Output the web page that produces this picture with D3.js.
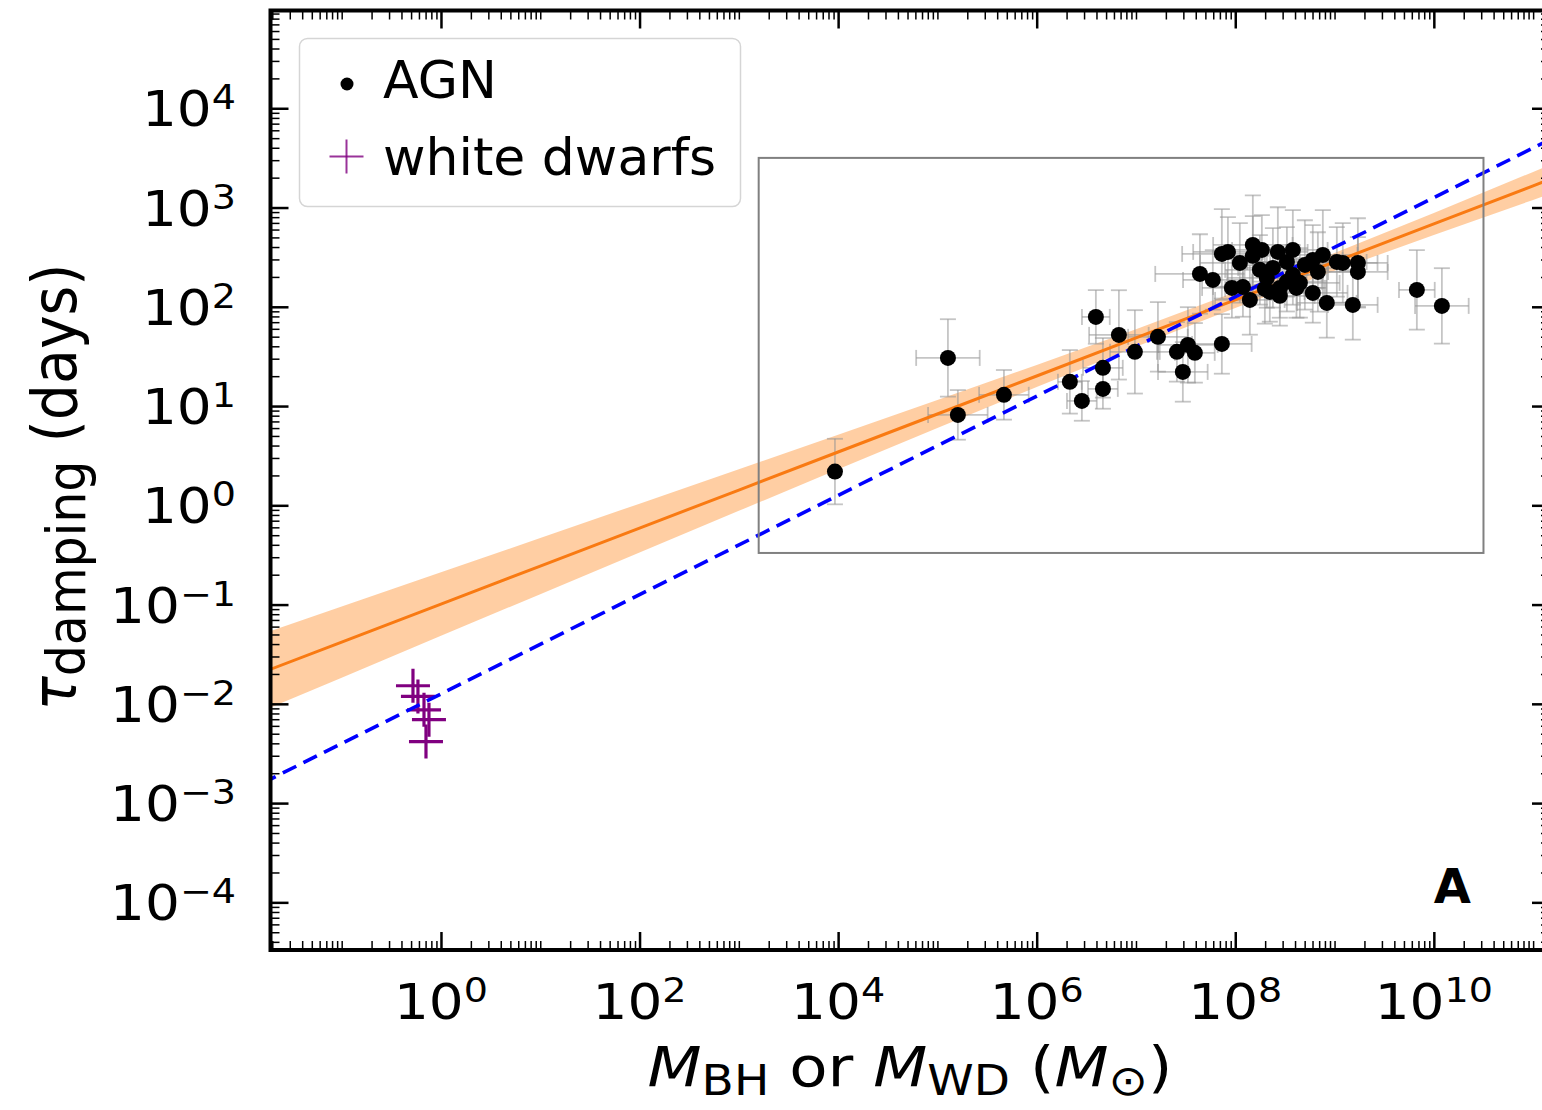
<!DOCTYPE html>
<html>
<head>
<meta charset="utf-8">
<script src="https://cdn.jsdelivr.net/npm/d3@7"></script>
<style>
  body { margin: 0; background: #fff; }
  svg { display: block; }
  text { font-family: "DejaVu Sans", sans-serif; fill: #000; }
</style>
</head>
<body>
<svg id="chart" width="1542" height="1110"></svg>
<script>
// ---- AGN sample: log10 black-hole mass, log10 damping time (days), 1-sigma errors (dex)
const agnLogMass = [3.968, 5.106, 5.206, 5.670, 6.334, 6.455, 6.596, 6.667, 6.667, 6.828,
  6.989, 7.221, 7.412, 7.523, 7.593, 7.472, 7.865, 7.644, 7.774, 7.865,
  7.926, 7.966, 8.147, 8.177, 8.177, 8.248, 8.318, 8.379, 8.429, 8.449,
  8.520, 8.580, 8.580, 8.651, 8.701, 8.781, 8.781, 8.832, 8.882, 8.922,
  9.023, 9.083, 9.235, 9.235, 9.184, 9.829, 10.081, 8.348, 8.077, 8.268,
  8.520, 8.298, 8.616, 8.449, 8.046];
const agnLogTau = [0.340, 1.485, 0.911, 1.113, 1.244, 1.052, 1.898, 1.385, 1.173, 1.717,
  1.546, 1.697, 1.546, 1.616, 1.536, 1.344, 1.626, 2.331, 2.271, 2.533,
  2.553, 2.190, 2.069, 2.623, 2.513, 2.372, 2.291, 2.392, 2.553, 2.190,
  2.452, 2.573, 2.321, 2.241, 2.422, 2.472, 2.140, 2.351, 2.523, 2.039,
  2.452, 2.442, 2.442, 2.351, 2.019, 2.170, 2.009, 2.150, 2.200, 2.573,
  2.253, 2.180, 2.190, 2.110, 2.442];
const agnLogMassErr = [0.00, 0.32, 0.30, 0.25, 0.12, 0.15, 0.14, 0.20, 0.15, 0.30,
  0.25, 0.30, 0.20, 0.30, 0.20, 0.25, 0.30, 0.45, 0.30, 0.40,
  0.35, 0.30, 0.35, 0.40, 0.30, 0.35, 0.40, 0.35, 0.30, 0.45,
  0.40, 0.35, 0.30, 0.40, 0.35, 0.30, 0.35, 0.40, 0.35, 0.30,
  0.30, 0.35, 0.30, 0.30, 0.25, 0.18, 0.27, 0.35, 0.30, 0.30,
  0.35, 0.40, 0.30, 0.35, 0.40];
const agnLogTauErr = [0.33, 0.39, 0.25, 0.25, 0.32, 0.20, 0.27, 0.30, 0.20, 0.45,
  0.42, 0.35, 0.30, 0.38, 0.30, 0.30, 0.30, 0.40, 0.30, 0.45,
  0.35, 0.30, 0.35, 0.50, 0.40, 0.35, 0.30, 0.40, 0.45, 0.30,
  0.35, 0.40, 0.30, 0.35, 0.45, 0.35, 0.30, 0.40, 0.45, 0.35,
  0.35, 0.40, 0.45, 0.35, 0.35, 0.40, 0.38, 0.30, 0.30, 0.35,
  0.30, 0.35, 0.30, 0.30, 0.40];

// ---- white dwarfs: log10 mass (Msun), log10 damping time (days)
const wdLogMass = [-0.282, -0.232, -0.171, -0.121, -0.151];
const wdLogTau  = [-1.818, -1.925, -2.060, -2.160, -2.380];

// ---- best-fit relation and its confidence band (log10 units)
const fitLogMass    = [-1.8, -1, 0, 1, 2, 3, 4, 5, 6, 7, 8, 9, 10, 11, 11.2];
const fitLogTau     = [-1.684, -1.378, -0.995, -0.612, -0.229, 0.154, 0.537, 0.920, 1.303, 1.686, 2.069, 2.452, 2.835, 3.218, 3.295];
const fitLogTauLow  = [-2.072, -1.736, -1.315, -0.895, -0.475, -0.056, 0.363, 0.779, 1.192, 1.597, 1.989, 2.363, 2.724, 3.077, 3.148];
const fitLogTauHigh = [-1.296, -1.020, -0.675, -0.329, 0.017, 0.364, 0.711, 1.061, 1.414, 1.775, 2.149, 2.541, 2.946, 3.359, 3.442];

// ---- tau ∝ M^(1/2) reference line
const scalingLogMass = [-1.8, 11.2];
const scalingLogTau  = [-2.80, 3.70];

// ---- AGN region outline
const boxLogMass = [3.2, 10.5];
const boxLogTau  = [-0.48, 3.5];

// ---- tick exponents
const xMajorExp = [0, 2, 4, 6, 8, 10];
const yMajorExp = [-4, -3, -2, -1, 0, 1, 2, 3, 4];
const legendLabels = ["AGN", "white dwarfs"];

const p10 = v => Math.pow(10, v);

const L = 270.5, R = 1550, T = 10.5, B = 950;
const x = d3.scaleLog().domain([p10(-1.717), p10(11.17)]).range([L, R]);
const y = d3.scaleLog().domain([p10(-4.48), p10(4.985)]).range([B, T]);

// text glyphs are drawn slightly wide
const TEXT_SX = 1.12;

const svg = d3.select("#chart");
svg.append("rect").attr("width", 1542).attr("height", 1110).attr("fill", "#fff");

svg.append("defs").append("clipPath").attr("id", "plotclip")
  .append("rect").attr("x", L).attr("y", T).attr("width", R - L).attr("height", B - T);

const plot = svg.append("g").attr("clip-path", "url(#plotclip)");

// confidence band
const band = fitLogMass.map((m, i) => ({m, lo: fitLogTauLow[i], hi: fitLogTauHigh[i], c: fitLogTau[i]}));
plot.append("path")
  .datum(band)
  .attr("d", d3.area().x(d => x(p10(d.m))).y0(d => y(p10(d.lo))).y1(d => y(p10(d.hi))))
  .attr("fill", "#ff7f0e").attr("fill-opacity", 0.38).attr("stroke", "none");

// AGN error bars
const agn = agnLogMass.map((m, i) => ({m, t: agnLogTau[i], em: agnLogMassErr[i], et: agnLogTauErr[i]}));
const eb = plot.append("g").attr("stroke", "#959595").attr("stroke-opacity", 0.55).attr("stroke-width", 1.8);
const cap = 8;
agn.forEach(d => {
  const cx = x(p10(d.m)), cy = y(p10(d.t));
  if (d.et > 0) {
    const y1 = y(p10(d.t + d.et)), y2 = y(p10(d.t - d.et));
    eb.append("line").attr("x1", cx).attr("x2", cx).attr("y1", y1).attr("y2", y2);
    eb.append("line").attr("x1", cx - cap).attr("x2", cx + cap).attr("y1", y1).attr("y2", y1);
    eb.append("line").attr("x1", cx - cap).attr("x2", cx + cap).attr("y1", y2).attr("y2", y2);
  }
  if (d.em > 0) {
    const x1 = x(p10(d.m - d.em)), x2 = x(p10(d.m + d.em));
    eb.append("line").attr("x1", x1).attr("x2", x2).attr("y1", cy).attr("y2", cy);
    eb.append("line").attr("x1", x1).attr("x2", x1).attr("y1", cy - cap).attr("y2", cy + cap);
    eb.append("line").attr("x1", x2).attr("x2", x2).attr("y1", cy - cap).attr("y2", cy + cap);
  }
});

// white dwarf markers
const plusArm = 17;
const wd = wdLogMass.map((m, i) => ({m, t: wdLogTau[i]}));
const wdG = plot.append("g").attr("stroke", "#800080").attr("stroke-width", 3.2);
wd.forEach(d => {
  const cx = x(p10(d.m)), cy = y(p10(d.t));
  wdG.append("line").attr("x1", cx - plusArm).attr("x2", cx + plusArm).attr("y1", cy).attr("y2", cy);
  wdG.append("line").attr("x1", cx).attr("x2", cx).attr("y1", cy - plusArm).attr("y2", cy + plusArm);
});

// fit line
plot.append("path")
  .datum(band)
  .attr("d", d3.line().x(d => x(p10(d.m))).y(d => y(p10(d.c))))
  .attr("fill", "none").attr("stroke", "#f97a12").attr("stroke-width", 3);

// M^(1/2) scaling line
const scal = scalingLogMass.map((m, i) => ({m, t: scalingLogTau[i]}));
plot.append("path")
  .datum(scal)
  .attr("d", d3.line().x(d => x(p10(d.m))).y(d => y(p10(d.t))))
  .attr("fill", "none").attr("stroke", "#0000ff").attr("stroke-width", 3.6)
  .attr("stroke-dasharray", "15,8");

// AGN points
plot.append("g").selectAll("circle").data(agn).join("circle")
  .attr("cx", d => x(p10(d.m))).attr("cy", d => y(p10(d.t))).attr("r", 8)
  .attr("fill", "#000");

// outline of AGN region
plot.append("rect")
  .attr("x", x(p10(boxLogMass[0]))).attr("y", y(p10(boxLogTau[1])))
  .attr("width", x(p10(boxLogMass[1])) - x(p10(boxLogMass[0])))
  .attr("height", y(p10(boxLogTau[0])) - y(p10(boxLogTau[1])))
  .attr("fill", "none").attr("stroke", "#808080").attr("stroke-width", 2);

// ---- ticks (inward on all sides)
const xMajor = xMajorExp.map(p10);
const xMinor = [];
for (let n = -2; n <= 11; n++) {
  for (let k = 1; k <= 9; k++) {
    if (k === 1 && n % 2 === 0) continue;
    const v = k * p10(n);
    if (v > x.domain()[0] && v < x.domain()[1]) xMinor.push(v);
  }
}
const yMajor = yMajorExp.map(p10);
const yMinor = [];
for (let n = -5; n <= 4; n++) {
  for (let k = 2; k <= 9; k++) {
    const v = k * p10(n);
    if (v > y.domain()[0] && v < y.domain()[1]) yMinor.push(v);
  }
}

function tickAxis(axisFn, scale, values, len, pos, width) {
  const g = svg.append("g").attr("transform", pos)
    .call(axisFn(scale).tickValues(values).tickSize(-len).tickFormat(""));
  g.select(".domain").remove();
  g.selectAll(".tick line").attr("stroke", "#000").attr("stroke-width", width);
  g.selectAll(".tick text").remove();
  return g;
}
tickAxis(d3.axisBottom, x, xMinor, 9, `translate(0,${B})`, 1.5);
tickAxis(d3.axisBottom, x, xMajor, 18, `translate(0,${B})`, 2.5);
tickAxis(d3.axisTop, x, xMinor, 9, `translate(0,${T})`, 1.5);
tickAxis(d3.axisTop, x, xMajor, 18, `translate(0,${T})`, 2.5);
tickAxis(d3.axisLeft, y, yMinor, 9, `translate(${L},0)`, 1.5);
tickAxis(d3.axisLeft, y, yMajor, 18, `translate(${L},0)`, 2.5);
tickAxis(d3.axisRight, y, yMinor, 9, `translate(${R},0)`, 1.5);
tickAxis(d3.axisRight, y, yMajor, 18, `translate(${R},0)`, 2.5);

// frame
svg.append("rect").attr("x", L).attr("y", T).attr("width", R - L).attr("height", B - T)
  .attr("fill", "none").attr("stroke", "#000").attr("stroke-width", 4);

// ---- text helper: place a text at (px, py) with horizontal glyph scaling
function wideText(px, py, anchor, size, extra) {
  return svg.append("g").attr("transform", `translate(${px},${py}) scale(${TEXT_SX},1)${extra || ""}`)
    .append("text").attr("x", 0).attr("y", 0).attr("text-anchor", anchor).attr("font-size", size);
}

// ---- tick labels
const tickFont = 49, supFont = 34, supRise = 17;
function powLabel(sel, e) {
  sel.append("tspan").text("10");
  sel.append("tspan").attr("font-size", supFont).attr("dy", -supRise)
    .text(e < 0 ? "\u2212" + Math.abs(e) : String(e));
}
xMajorExp.forEach(e => powLabel(wideText(x(p10(e)), 1019, "middle", tickFont), e));
yMajorExp.forEach(e => powLabel(wideText(236, y(p10(e)) + 18, "end", tickFont), e));

// ---- axis titles
const subDy = 9;
const xt = wideText(910, 1086, "middle", 56);
xt.append("tspan").attr("font-style", "italic").text("M");
xt.append("tspan").attr("font-size", 42).attr("dy", subDy).text("BH");
xt.append("tspan").attr("dy", -subDy).text(" or ");
xt.append("tspan").attr("font-style", "italic").text("M");
xt.append("tspan").attr("font-size", 42).attr("dy", subDy).text("WD");
xt.append("tspan").attr("dy", -subDy).text(" (");
xt.append("tspan").attr("font-style", "italic").text("M");
xt.append("tspan").attr("font-size", 42).attr("dy", subDy).text("\u2299");
xt.append("tspan").attr("dy", -subDy).text(")");

const yt = svg.append("g").attr("transform", "translate(76,487) scale(1.08,1) rotate(-90)")
  .append("text").attr("text-anchor", "middle").attr("font-size", 57);
yt.append("tspan").attr("font-style", "italic").text("\u03c4");
yt.append("tspan").attr("font-size", 49).attr("dy", 8).text("damping");
yt.append("tspan").attr("dy", -8).text(" (days)");

// panel letter
svg.append("text").attr("x", 1471).attr("y", 903).attr("text-anchor", "end")
  .attr("font-size", 48).attr("font-weight", "bold").text("A");

// ---- legend
const lg = svg.append("g");
lg.append("rect").attr("x", 299.5).attr("y", 38.5).attr("width", 441).attr("height", 168)
  .attr("rx", 8).attr("fill", "#fff").attr("fill-opacity", 0.8)
  .attr("stroke", "#d5d5d5").attr("stroke-width", 1.5);
lg.append("circle").attr("cx", 347).attr("cy", 84).attr("r", 6.5).attr("fill", "#000");
lg.append("line").attr("x1", 346.5 - plusArm).attr("x2", 346.5 + plusArm).attr("y1", 156.5).attr("y2", 156.5)
  .attr("stroke", "#800080").attr("stroke-width", 2).attr("stroke-opacity", 0.8);
lg.append("line").attr("x1", 346.5).attr("x2", 346.5).attr("y1", 156.5 - plusArm).attr("y2", 156.5 + plusArm)
  .attr("stroke", "#800080").attr("stroke-width", 2).attr("stroke-opacity", 0.8);
lg.append("text").attr("x", 383).attr("y", 98).attr("font-size", 52).text(legendLabels[0]);
lg.append("text").attr("x", 383).attr("y", 175).attr("font-size", 52).text(legendLabels[1]);
</script>
</body>
</html>
